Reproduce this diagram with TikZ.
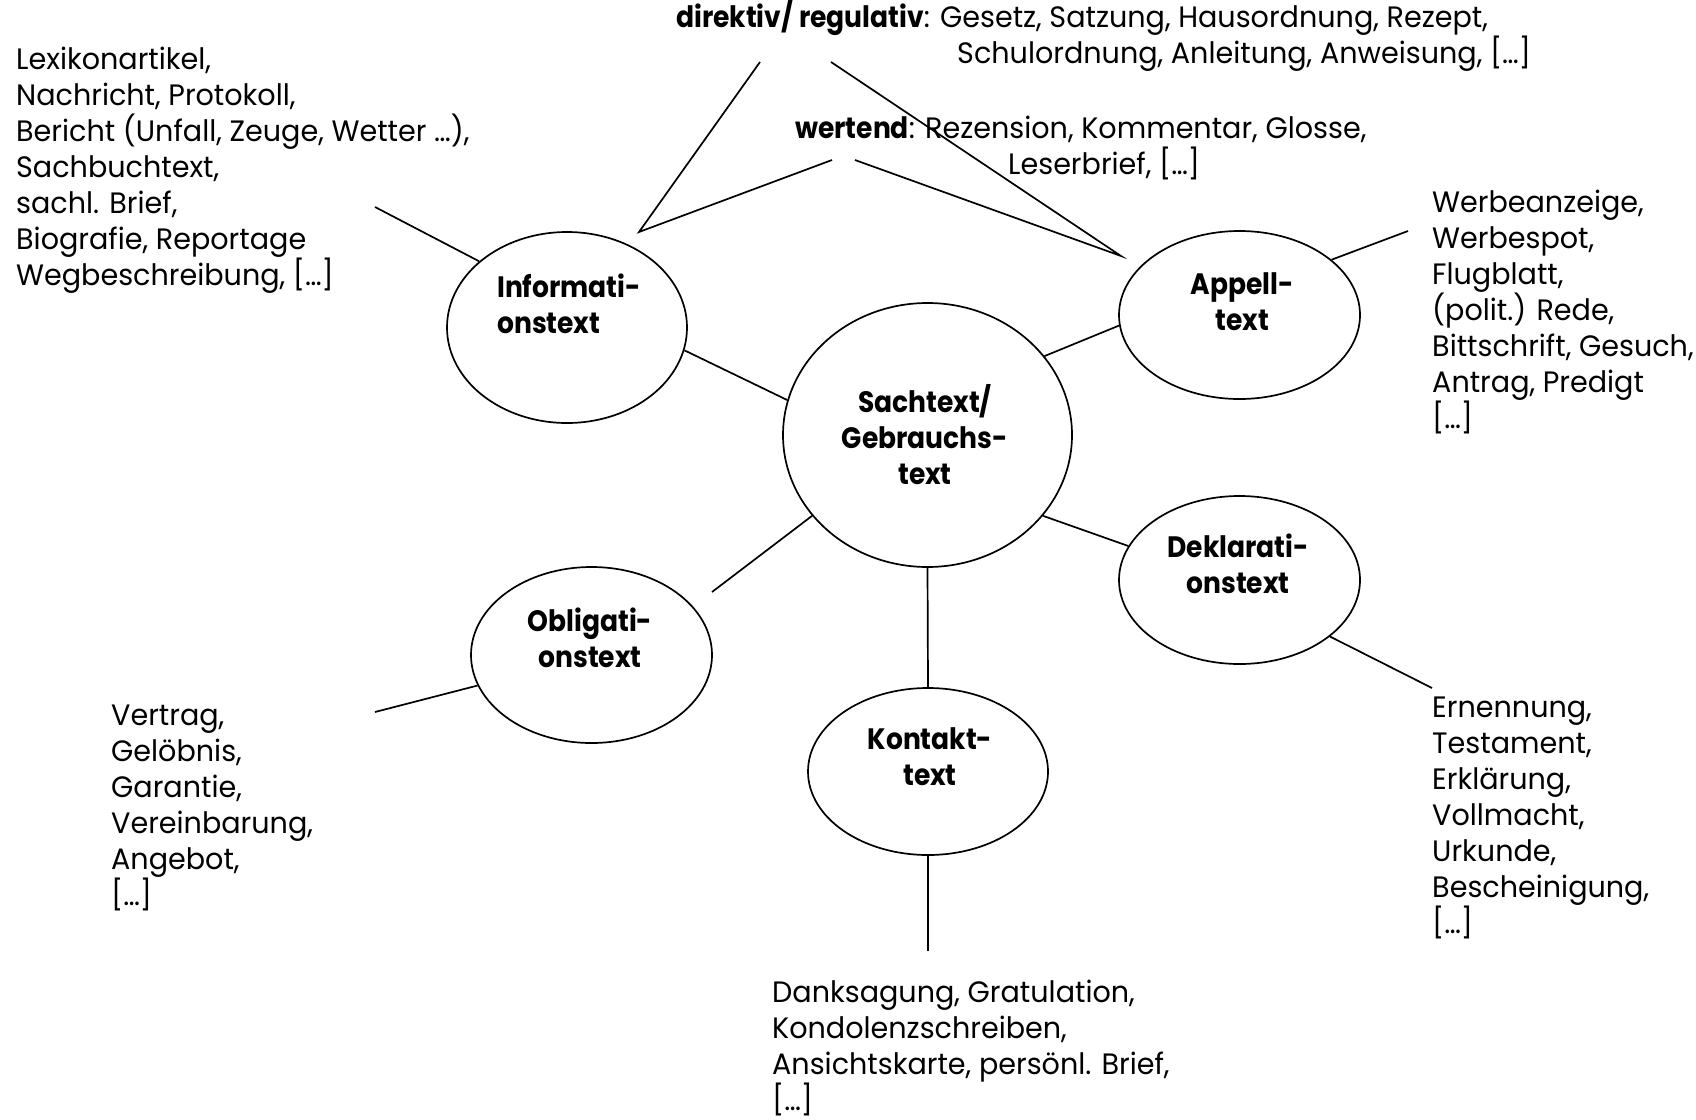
\documentclass[tikz,border=0pt]{standalone}
\usepackage{fontspec}
\setmainfont{Poppins}[FakeStretch=0.97, BoldFeatures={FakeStretch=0.9}]
\usetikzlibrary{shapes.geometric}
\begin{document}
\begin{tikzpicture}[x=1pt,y=-1pt,
  ell/.style 2 args={draw, ellipse, line width=1.7pt, inner sep=0pt, minimum width=#1pt, minimum height=#2pt},
  conn/.style={line width=1.7pt},
  txt/.style={font=\fontsize{29.5}{36}\selectfont, align=left, inner sep=0pt, anchor=base west},
  lbl/.style={font=\fontsize{29.5}{36}\selectfont\bfseries, align=center, inner sep=0pt, anchor=base},
  lbll/.style={font=\fontsize{29.5}{36}\selectfont\bfseries, align=left, inner sep=0pt, anchor=base west}]
\useasboundingbox (0,0) rectangle (1696,1119);
% ellipses
\node[ell={240}{191}] (info) at (567,327.5) {};
\node[ell={289}{264}] (sach) at (927.5,435) {};
\node[ell={241}{168}] (app) at (1239.5,315) {};
\node[ell={241}{168}] (dek) at (1239.5,580) {};
\node[ell={241}{176}] (ob) at (591.5,655) {};
\node[ell={240}{167}] (kon) at (928,771.5) {};
% ellipse labels (anchor = baseline of the last line)
\node[lbll] (infot) at (497,333) {Informati-\\onstext};
\node[lbl] (sacht) at (925,484) {Sachtext/\\Gebrauchs-\\text};
\node[lbl] (appt) at (1242,330) {Appell-\\text};
\node[lbl] (dekt) at (1238,593) {Deklarati-\\onstext};
\node[lbl] (obt) at (590,667) {Obligati-\\onstext};
\node[lbl] (kont) at (930,785) {Kontakt-\\text};
% text blocks (anchor = baseline of the last line)
\node[txt] (lex) at (16,285) {Lexikonartikel,\\Nachricht, Protokoll,\\Bericht (Unfall, Zeuge, Wetter …),\\Sachbuchtext,\\sachl. Brief,\\Biografie, Reportage\\Wegbeschreibung, […]};
\node[txt] (dir) at (676,63) {\textbf{direktiv/ regulativ}: Gesetz, Satzung, Hausordnung, Rezept,\\\hspace*{281pt}Schulordnung, Anleitung, Anweisung, […]};
\node[txt] (wer) at (795,174) {\textbf{wertend}: Rezension, Kommentar, Glosse,\\\hspace*{213pt}Leserbrief, […]};
\node[txt] (werb) at (1432,428) {Werbeanzeige,\\Werbespot,\\Flugblatt,\\(polit.) Rede,\\Bittschrift, Gesuch,\\Antrag, Predigt\\{[…]}};
\node[txt] (ern) at (1432,933) {Ernennung,\\Testament,\\Erklärung,\\Vollmacht,\\Urkunde,\\Bescheinigung,\\{[…]}};
\node[txt] (vert) at (111,905) {Vertrag,\\Gelöbnis,\\Garantie,\\Vereinbarung,\\Angebot,\\{[…]}};
\node[txt] (dank) at (772,1110) {Danksagung, Gratulation,\\Kondolenzschreiben,\\Ansichtskarte, persönl. Brief,\\{[…]}};
% free ends
\coordinate (dirL) at (760,62);
\coordinate (dirR) at (831,62);
\coordinate (werL) at (832,160);
\coordinate (werR) at (855,160);
\coordinate (vapex) at (639,232);
\coordinate (vtip) at (1121,256);
\coordinate (lexE) at (375,207);
\coordinate (werbE) at (1408,231);
\coordinate (vertE) at (375,712);
\coordinate (ernE) at (1432,688);
\coordinate (dankE) at (928,951);
\coordinate (obS) at (712,592);
% connectors
\draw[conn] (dirL) -- (vapex) -- (werL);
\draw[conn] (dirR) -- (vtip) -- (werR);
\draw[conn] (lexE) -- (info.143);
\draw[conn] (info.-11.5) -- (sach.166.3);
\draw[conn] (sach.215.1) -- (obS);
\draw[conn] (sach.34.8) -- (app.185.7);
\draw[conn] (sach.-35.1) -- (dek.163.2);
\draw[conn] (sach.south) -- (kon.north);
\draw[conn] (kon.south) -- (dankE);
\draw[conn] (app.31.9) -- (werbE);
\draw[conn] (dek.-32.3) -- (ernE);
\draw[conn] (ob.195.6) -- (vertE);
\end{tikzpicture}
\end{document}
